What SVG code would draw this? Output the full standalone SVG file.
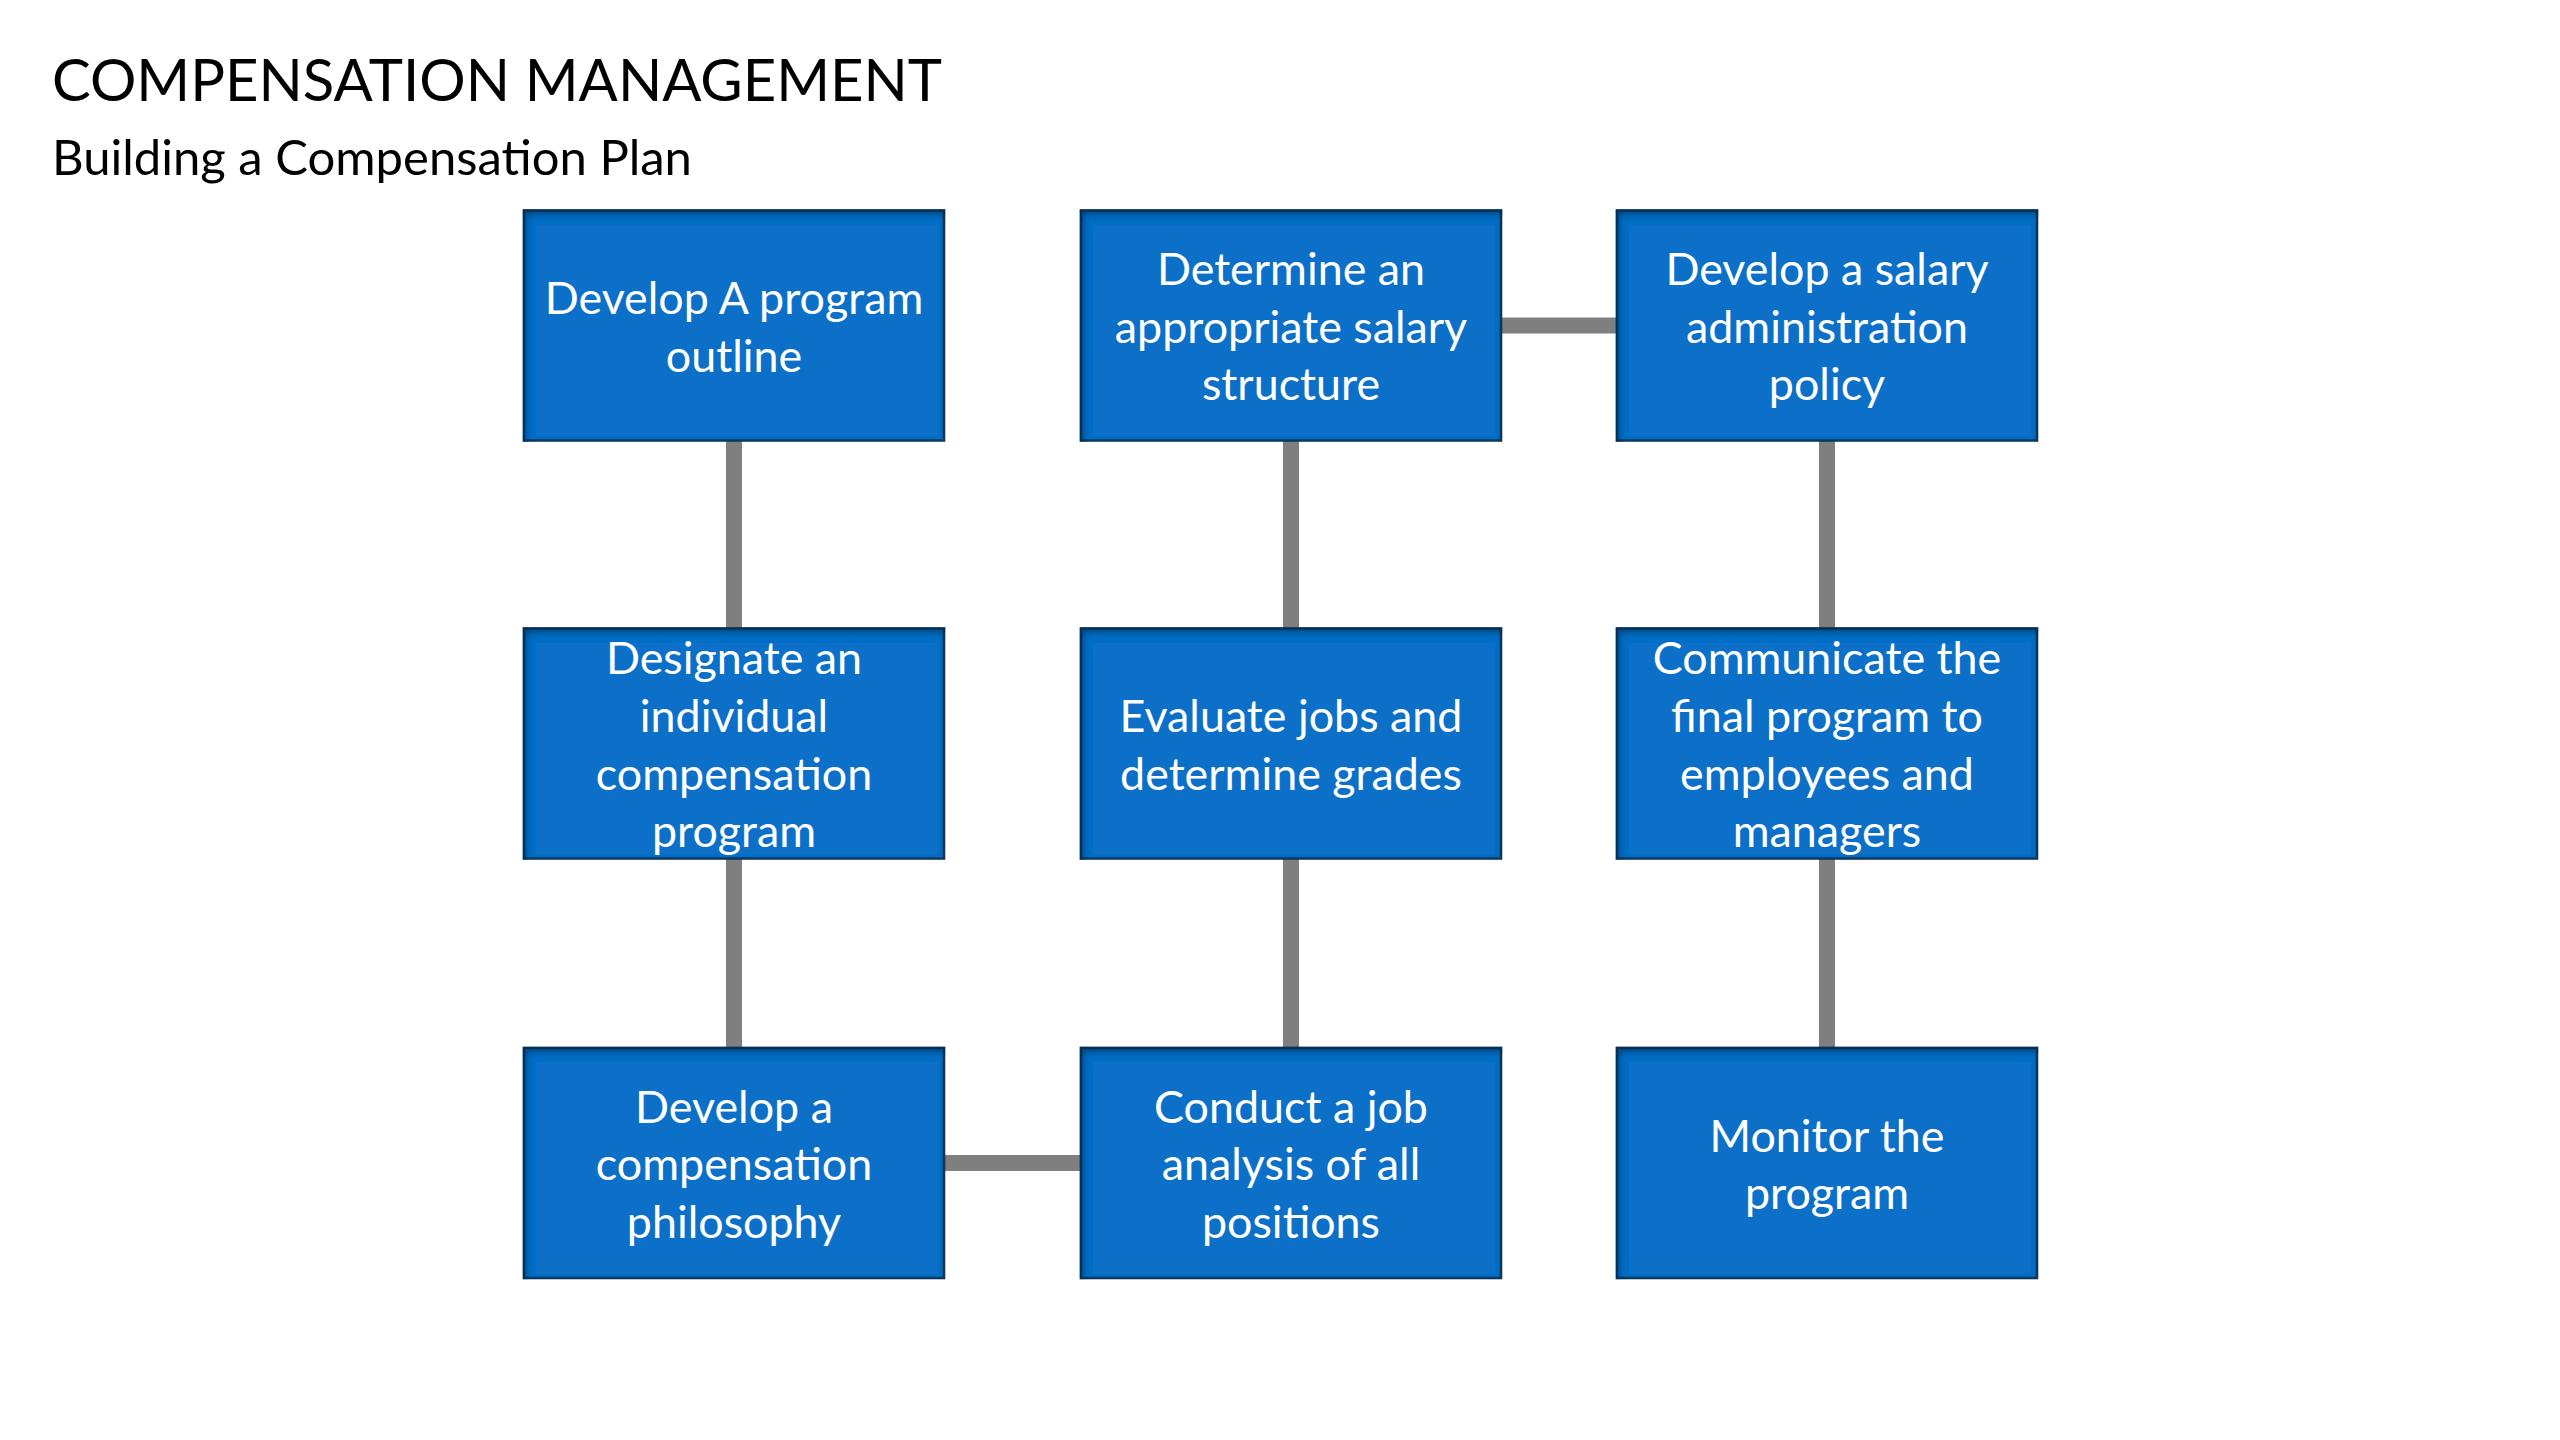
<svg xmlns="http://www.w3.org/2000/svg" width="2560" height="1440" viewBox="0 0 2560 1440">
  <style>
    .title { font-family: Lato, "Open Sans", "Liberation Sans", sans-serif; font-size: 58px; fill: #000000; }
    .subtitle { font-family: Lato, "Open Sans", "Liberation Sans", sans-serif; font-size: 49px; fill: #000000; }
    .box { fill: #1170C8; stroke: #163A60; stroke-width: 2.5; filter: url(#inset); }
    .label { font-family: Lato, "Open Sans", "Liberation Sans", sans-serif; font-size: 44.8px; fill: #FFFFFF; text-anchor: middle; }
    .conn { stroke: #7F7F7F; stroke-width: 16; fill: none; }
  </style>
  <defs>
    <filter id="inset" x="-5%" y="-5%" width="110%" height="110%">
      <feComponentTransfer in="SourceAlpha" result="inv">
        <feFuncA type="table" tableValues="1 0"/>
      </feComponentTransfer>
      <feGaussianBlur in="inv" stdDeviation="4"/>
      <feOffset dx="3" dy="5" result="offblur"/>
      <feFlood flood-color="#0A2A4E" flood-opacity="0.85"/>
      <feComposite in2="offblur" operator="in"/>
      <feComposite in2="SourceAlpha" operator="in" result="shadow"/>
      <feMerge>
        <feMergeNode in="SourceGraphic"/>
        <feMergeNode in="shadow"/>
      </feMerge>
    </filter>
  </defs>
  <rect x="0" y="0" width="2560" height="1440" fill="#FFFFFF"/>

  <text class="title" x="52" y="101">COMPENSATION MANAGEMENT</text>
  <text class="subtitle" x="52" y="175">Building a Compensation Plan</text>

  <g id="connectors">
    <line class="conn" x1="734" y1="440" x2="734" y2="629"/>
    <line class="conn" x1="734" y1="858" x2="734" y2="1048"/>
    <line class="conn" x1="1291" y1="440" x2="1291" y2="629"/>
    <line class="conn" x1="1291" y1="858" x2="1291" y2="1048"/>
    <line class="conn" x1="1827" y1="440" x2="1827" y2="629"/>
    <line class="conn" x1="1827" y1="858" x2="1827" y2="1048"/>
    <line class="conn" x1="1501" y1="325.5" x2="1617" y2="325.5"/>
    <line class="conn" x1="944" y1="1163" x2="1081" y2="1163"/>
  </g>

  <g id="node-program-outline">
    <rect class="box" x="524" y="210.5" width="420" height="230"/>
    <text class="label"><tspan x="734" y="314">Develop A program</tspan><tspan x="734" y="371.6">outline</tspan></text>
  </g>
  <g id="node-salary-structure">
    <rect class="box" x="1081" y="210.5" width="420" height="230"/>
    <text class="label"><tspan x="1291" y="285.2">Determine an</tspan><tspan x="1291" y="342.8">appropriate salary</tspan><tspan x="1291" y="400.4">structure</tspan></text>
  </g>
  <g id="node-salary-policy">
    <rect class="box" x="1617" y="210.5" width="420" height="230"/>
    <text class="label"><tspan x="1827" y="285.2">Develop a salary</tspan><tspan x="1827" y="342.8">administration</tspan><tspan x="1827" y="400.4">policy</tspan></text>
  </g>
  <g id="node-individual-program">
    <rect class="box" x="524" y="628.5" width="420" height="230"/>
    <text class="label"><tspan x="734" y="674.4">Designate an</tspan><tspan x="734" y="732">individual</tspan><tspan x="734" y="789.6">compensation</tspan><tspan x="734" y="847.2">program</tspan></text>
  </g>
  <g id="node-evaluate-jobs">
    <rect class="box" x="1081" y="628.5" width="420" height="230"/>
    <text class="label"><tspan x="1291" y="732">Evaluate jobs and</tspan><tspan x="1291" y="789.6">determine grades</tspan></text>
  </g>
  <g id="node-communicate">
    <rect class="box" x="1617" y="628.5" width="420" height="230"/>
    <text class="label"><tspan x="1827" y="674.4">Communicate the</tspan><tspan x="1827" y="732">final program to</tspan><tspan x="1827" y="789.6">employees and</tspan><tspan x="1827" y="847.2">managers</tspan></text>
  </g>
  <g id="node-philosophy">
    <rect class="box" x="524" y="1048" width="420" height="230"/>
    <text class="label"><tspan x="734" y="1122.7">Develop a</tspan><tspan x="734" y="1180.3">compensation</tspan><tspan x="734" y="1237.9">philosophy</tspan></text>
  </g>
  <g id="node-job-analysis">
    <rect class="box" x="1081" y="1048" width="420" height="230"/>
    <text class="label"><tspan x="1291" y="1122.7">Conduct a job</tspan><tspan x="1291" y="1180.3">analysis of all</tspan><tspan x="1291" y="1237.9">positions</tspan></text>
  </g>
  <g id="node-monitor">
    <rect class="box" x="1617" y="1048" width="420" height="230"/>
    <text class="label"><tspan x="1827" y="1151.5">Monitor the</tspan><tspan x="1827" y="1209.1">program</tspan></text>
  </g>
</svg>
